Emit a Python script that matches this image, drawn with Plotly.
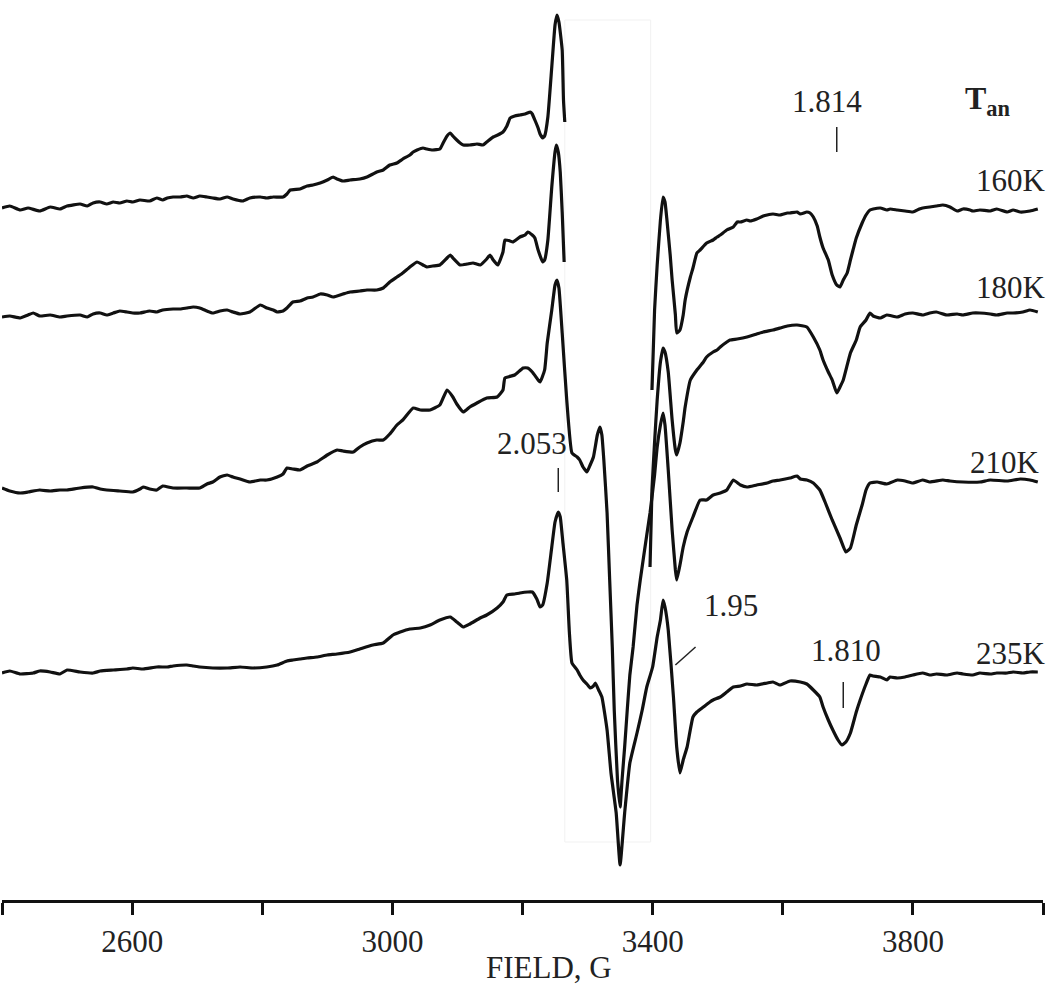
import plotly.graph_objects as go

# EPR spectra after annealing (field in G, signal in a.u.)
# each spectrum is given relative to its own baseline, offsets stack them

LABELS = ["160K", "180K", "210K", "235K"]
OFFSETS = [0, -102, -270, -462]

# 160K: left part, gap (clipped in the original), right part
F160_L = [2400, 2412, 2428, 2440, 2458, 2474, 2489, 2500, 2520, 2531, 2540, 2551, 2561, 2571, 2581,
          2592, 2601, 2612, 2627, 2638, 2647, 2654, 2663, 2674, 2684, 2694, 2704, 2715, 2724, 2735,
          2746, 2755, 2770, 2781, 2797, 2807, 2817, 2832, 2838, 2843, 2858, 2869, 2878, 2889, 2900,
          2909, 2915, 2924, 2935, 2950, 2961, 2970, 2976, 2986, 2996, 3007, 3016, 3027, 3032, 3038,
          3047, 3053, 3062, 3073, 3078, 3084, 3089, 3093, 3099, 3104, 3109, 3119, 3130, 3139, 3145,
          3155, 3162, 3170, 3176, 3181, 3188, 3196, 3204, 3212, 3215, 3219, 3224, 3227, 3231, 3234,
          3239, 3245, 3250, 3253, 3256, 3261, 3263, 3265]
S160_L = [2, 4, 0, 2, -1, 3, 1, 4, 6, 4, 7, 8, 6, 8, 7,
          9, 8, 10, 9, 12, 10, 12, 13, 13, 14, 12, 14, 13, 12, 11,
          13, 11, 9, 12, 13, 12, 13, 13, 16, 20, 21, 24, 25, 27, 30,
          33, 31, 29, 30, 31, 33, 36, 38, 40, 45, 47, 51, 55, 58, 60,
          62, 61, 60, 61, 67, 74, 77, 74, 70, 67, 65, 65, 66, 65, 68,
          73, 75, 78, 84, 92, 94, 95, 96, 98, 96, 90, 82, 76, 72, 74,
          93, 143, 185, 195, 188, 160, 110, 88]
F160_R = [3399, 3403, 3407, 3412, 3416, 3419, 3422, 3427, 3430, 3435, 3437, 3442, 3447, 3450, 3458,
          3462, 3468, 3473, 3483, 3493, 3499, 3504, 3514, 3524, 3530, 3535, 3545, 3550, 3560, 3570,
          3576, 3585, 3596, 3607, 3611, 3622, 3627, 3637, 3642, 3647, 3653, 3657, 3662, 3670, 3676,
          3683, 3688, 3693, 3699, 3704, 3708, 3713, 3722, 3728, 3734, 3739, 3750, 3760, 3765, 3776,
          3788, 3800, 3810, 3815, 3826, 3836, 3846, 3857, 3868, 3877, 3888, 3892, 3903, 3919, 3929,
          3945, 3954, 3965, 3980, 3992]
S160_R = [-180, -100, -55, -10, 13, 8, -10, -45, -70, -105, -123, -120, -105, -90, -67,
          -58, -43, -40, -33, -30, -27, -25, -20, -17, -12, -12, -10, -11, -9, -6,
          -5, -4, -5, -3, -3, -2, -4, -2, -3, -7, -16, -27, -38, -50, -65,
          -75, -77, -70, -63, -50, -40, -28, -13, -5, 0, 1, 2, 0, 1, 0,
          -1, -2, 1, 2, 3, 4, 5, 3, -1, 1, 0, -1, 0, -1, 1,
          -2, 0, -2, -1, 1]

F180_L = [2400, 2412, 2428, 2440, 2448, 2458, 2474, 2489, 2500, 2520, 2531, 2540, 2551, 2561, 2571,
          2581, 2592, 2601, 2612, 2627, 2638, 2647, 2663, 2674, 2684, 2694, 2704, 2715, 2724, 2735,
          2746, 2755, 2766, 2781, 2797, 2807, 2817, 2823, 2832, 2838, 2847, 2858, 2869, 2878, 2889,
          2900, 2909, 2924, 2935, 2950, 2961, 2976, 2986, 2996, 3007, 3016, 3027, 3038, 3047, 3053,
          3062, 3073, 3084, 3089, 3093, 3104, 3115, 3124, 3135, 3145, 3150, 3155, 3162, 3170, 3173,
          3181, 3185, 3196, 3204, 3208, 3215, 3219, 3224, 3231, 3234, 3239, 3245, 3250, 3252, 3255,
          3258, 3261, 3264]
S180_L = [-5, -4, -6, -3, -1, -4, -3, -5, -4, -3, -5, -2, -1, -3, -1,
          1, 0, -1, -1, 1, 0, 2, 3, 3, 4, 5, 4, 1, -1, 1,
          2, 0, -2, 0, 7, 4, 2, 0, 1, 4, 10, 11, 14, 15, 18,
          17, 15, 18, 20, 21, 22, 22, 24, 30, 35, 39, 45, 50, 47, 45,
          46, 47, 54, 57, 54, 47, 48, 49, 47, 53, 57, 52, 47, 60, 72,
          71, 70, 75, 77, 80, 77, 74, 62, 50, 52, 72, 125, 160, 167, 160,
          140, 100, 50]
F180_R = [3396, 3399, 3403, 3407, 3412, 3416, 3419, 3424, 3430, 3435, 3437, 3442, 3447, 3450, 3458,
          3468, 3478, 3483, 3493, 3499, 3504, 3514, 3519, 3530, 3545, 3560, 3570, 3585, 3596, 3607,
          3622, 3637, 3647, 3657, 3662, 3670, 3676, 3683, 3688, 3693, 3704, 3713, 3719, 3728, 3734,
          3739, 3750, 3760, 3776, 3788, 3800, 3815, 3826, 3836, 3852, 3868, 3877, 3892, 3903, 3919,
          3929, 3945, 3954, 3969, 3980, 3992]
S180_R = [-255, -178, -130, -88, -50, -36, -40, -60, -108, -138, -143, -131, -110, -95, -68,
          -58, -50, -45, -40, -38, -35, -30, -28, -27, -25, -22, -20, -18, -16, -14,
          -13, -15, -25, -38, -48, -60, -68, -81, -75, -68, -41, -28, -15, -8, -1,
          -4, -6, -3, -5, -2, -1, -3, -1, 0, -3, -2, -3, -1, -1, -2,
          -3, -1, -1, 0, 2, 0]

F210 = [2400, 2412, 2428, 2440, 2458, 2474, 2489, 2500, 2520, 2540, 2551, 2561, 2581, 2601, 2612,
        2617, 2627, 2638, 2647, 2663, 2684, 2704, 2715, 2724, 2735, 2746, 2755, 2766, 2781, 2797,
        2807, 2823, 2832, 2838, 2847, 2858, 2869, 2884, 2900, 2915, 2924, 2940, 2950, 2961, 2976,
        2986, 2996, 3007, 3016, 3032, 3043, 3058, 3073, 3084, 3093, 3099, 3109, 3119, 3130, 3145,
        3161, 3170, 3173, 3188, 3201, 3208, 3215, 3224, 3227, 3234, 3238, 3245, 3250, 3253, 3256,
        3261, 3268, 3276, 3284, 3288, 3293, 3299, 3304, 3309, 3315, 3319, 3322, 3325, 3330, 3334,
        3338, 3341, 3346, 3350, 3353, 3357, 3361, 3365, 3370, 3376, 3381, 3391, 3396, 3403, 3407,
        3412, 3416, 3419, 3424, 3430, 3435, 3437, 3442, 3447, 3453, 3462, 3473, 3483, 3493, 3504,
        3514, 3524, 3535, 3545, 3560, 3576, 3585, 3596, 3611, 3622, 3627, 3637, 3647, 3657, 3665,
        3676, 3688, 3697, 3704, 3713, 3722, 3728, 3734, 3745, 3760, 3776, 3788, 3800, 3815, 3826,
        3846, 3857, 3877, 3903, 3919, 3945, 3965, 3980, 3992]
S210 = [-8, -11, -13, -12, -10, -11, -10, -10, -8, -7, -9, -10, -11, -12, -9,
        -7, -9, -10, -6, -8, -8, -8, -4, -2, 3, 5, 3, 1, -2, 0,
        0, 3, 6, 12, 11, 10, 14, 18, 25, 30, 29, 28, 33, 37, 40,
        40, 46, 55, 60, 72, 70, 70, 75, 90, 83, 76, 68, 73, 77, 82,
        83, 90, 102, 105, 112, 112, 108, 100, 98, 110, 137, 170, 195, 200, 192,
        147, 80, 27, 23, 20, 13, 8, 15, 23, 45, 53, 45, 20, -33, -100,
        -167, -230, -300, -327, -300, -267, -230, -195, -167, -125, -100, -55, -33, 5, 33,
        55, 67, 55, 10, -50, -90, -100, -85, -67, -52, -37, -20, -20, -15, -13,
        -10, 0, -5, -7, -5, -3, -1, 0, 2, 4, 1, 0, -3, -10, -22,
        -40, -58, -72, -68, -45, -25, -10, -3, -2, -4, 0, -1, -3, 0, -2,
        0, -1, -2, -2, 0, -1, 1, 0, -2]

F235 = [2400, 2412, 2428, 2448, 2458, 2474, 2489, 2500, 2520, 2540, 2551, 2571, 2592, 2601, 2617,
        2638, 2654, 2663, 2684, 2694, 2704, 2724, 2746, 2766, 2786, 2807, 2823, 2838, 2847, 2858,
        2869, 2884, 2900, 2915, 2935, 2950, 2970, 2986, 3001, 3012, 3027, 3043, 3058, 3073, 3089,
        3099, 3109, 3119, 3135, 3145, 3161, 3170, 3176, 3188, 3196, 3208, 3215, 3222, 3227, 3231,
        3238, 3245, 3250, 3255, 3258, 3262, 3268, 3272, 3276, 3284, 3288, 3293, 3299, 3304, 3309,
        3312, 3317, 3322, 3330, 3336, 3344, 3350, 3357, 3365, 3376, 3384, 3391, 3400, 3407, 3412,
        3416, 3419, 3424, 3432, 3437, 3442, 3447, 3453, 3462, 3468, 3478, 3488, 3493, 3504, 3514,
        3524, 3535, 3545, 3560, 3576, 3585, 3596, 3611, 3627, 3637, 3647, 3657, 3662, 3670, 3677,
        3685, 3691, 3697, 3704, 3713, 3719, 3728, 3734, 3739, 3750, 3760, 3765, 3776, 3788, 3800,
        3815, 3826, 3836, 3852, 3868, 3877, 3892, 3903, 3919, 3929, 3945, 3954, 3969, 3980, 3992]
S235 = [-1, 1, -2, -1, 1, 0, -2, 2, 0, -1, 1, 2, 3, 4, 3,
        5, 5, 6, 7, 6, 5, 4, 4, 5, 4, 5, 7, 11, 12, 13,
        14, 15, 17, 18, 20, 23, 27, 29, 37, 40, 43, 44, 47, 52, 55,
        50, 45, 48, 54, 57, 64, 70, 77, 78, 79, 80, 80, 73, 65, 67,
        89, 125, 150, 160, 155, 130, 92, 40, 9, 2, -3, -8, -12, -16, -14,
        -11, -18, -25, -58, -101, -141, -193, -141, -91, -61, -38, -15, 5, 35, 52,
        72, 65, 42, -25, -75, -101, -88, -75, -45, -40, -35, -30, -28, -25, -20,
        -15, -14, -12, -13, -11, -10, -13, -9, -10, -12, -18, -25, -35, -48, -58,
        -68, -73, -70, -61, -40, -28, -12, -3, -4, -5, -8, -5, -6, -5, -3,
        -1, -3, -2, -3, -1, -2, -3, -1, -2, -1, -1, 0, -1, 0, 0]

X_TICKS = [2600, 3000, 3400, 3800]
X_TICK_TEXT = ["2600", "3000", "3400", "3800"]

FONT = "Liberation Serif"
INK = "#111111"

fields = [F160_L + [None] + F160_R, F180_L + [None] + F180_R, F210, F235]
signals = [S160_L + [None] + S160_R, S180_L + [None] + S180_R, S210, S235]

fig = go.Figure()
for f, s, off, name in zip(fields, signals, OFFSETS, LABELS):
    y = [None if v is None else v + off for v in s]
    fig.add_trace(go.Scatter(x=f, y=y, mode="lines", name=name, connectgaps=False,
                             line=dict(color=INK, width=3.2, shape="spline", smoothing=0.4),
                             hoverinfo="skip"))

# faint frame left over from the cut-and-paste in the original figure
fig.add_shape(type="rect", x0=3265, x1=3397, y0=-632, y1=190, xref="x", yref="y",
              line=dict(color="#f1f1f1", width=1), layer="below")

def label(text, x, y, anchor="center", size=31, xref="x"):
    fig.add_annotation(x=x, y=y, xref=xref, text=text, showarrow=False, xanchor=anchor,
                       yanchor="middle", font=dict(family=FONT, size=size, color="#222"))

def tick(x, y0, y1):
    fig.add_shape(type="line", x0=x, x1=x, y0=y0, y1=y1, line=dict(color="#222", width=1.5))

# temperature labels (right edge sits just past the end of the axis)
label("160K", 1.005, 30, "right", xref="paper")
label("180K", 1.005, -77, "right", xref="paper")
label("210K", 0.999, -252, "right", xref="paper")
label("235K", 1.005, -443, "right", xref="paper")
label("<b>T</b><sub><b>an</b></sub>", 3915, 110, "center", 32)

# g-factor markers
label("1.814", 3668, 109)
tick(3683, 83, 58)
label("2.053", 3215, -233)
tick(3255, -258, -282)
label("1.95", 3520, -395)
fig.add_shape(type="line", x0=3435, y0=-455, x1=3466, y1=-437, line=dict(color="#222", width=1.5))
label("1.810", 3697, -440)
tick(3693, -472, -498)

# axis title sits a bit right of the centre in the original
fig.add_annotation(x=3240, y=-0.075, xref="x", yref="paper", text="FIELD, G", showarrow=False,
                   xanchor="center", yanchor="middle", font=dict(family=FONT, size=31, color="#222"))

fig.update_layout(width=1050, height=987, margin=dict(l=2, r=7, t=0, b=87, autoexpand=False),
                  paper_bgcolor="white", plot_bgcolor="white", showlegend=False)
fig.update_xaxes(range=[2400, 4000], tickmode="array", tickvals=X_TICKS, ticktext=X_TICK_TEXT,
                 ticks="outside", ticklen=12, tickwidth=2.5, tickcolor=INK,
                 minor=dict(tickmode="linear", tick0=2400, dtick=200, ticks="outside",
                            ticklen=12, tickwidth=2.5, tickcolor=INK, showgrid=False),
                 showline=True, linewidth=3, linecolor=INK, automargin=False,
                 showgrid=False, zeroline=False, ticklabelstandoff=0,
                 tickfont=dict(family=FONT, size=31, color="#222"))
fig.update_yaxes(visible=False, range=[-690, 210])

# drop the browser's default body margin so the figure sits at the page corner
fig.write_html("out.html", config={"displayModeBar": False},
               post_script="document.body.style.margin='0';")
